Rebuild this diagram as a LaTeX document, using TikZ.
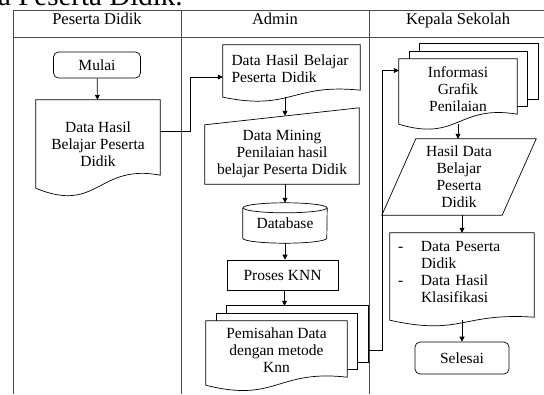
\documentclass[tikz,border=0pt]{standalone}
\usepackage{fontspec}
\setmainfont{Liberation Serif}
\usetikzlibrary{arrows.meta,calc,positioning,backgrounds}

\tikzset{
  lane/.style={draw=black!70, line width=0.8pt},
  shapeline/.style={draw=black, line width=0.7pt},
  flow/.style={-{Triangle[length=5pt,width=5pt]}, line width=0.7pt},
  txt/.style={font=\fontsize{15.5}{17}\selectfont, inner sep=0pt, align=center},
  hdr/.style={font=\fontsize{16.5}{18}\selectfont, inner sep=0pt},
  startstop/.style={txt, shapeline, rounded corners=5pt},
  procbox/.style={txt, shapeline},
}

% document symbol: #1 node, #2 rise of right end, #3 dip, #4 bulge
\newcommand{\docline}[4]{%
  \draw[shapeline, fill=white] (#1.south west) -- (#1.north west) -- (#1.north east)
    -- ([yshift=#2pt]#1.south east)
    .. controls ([yshift=#4pt]#1.south) and ([yshift=-#3pt]#1.south) .. (#1.south west) -- cycle;}
% pages behind a multi document: #1 front node, #2 rise of right end
\newcommand{\stackline}[2]{%
  \foreach \s in {2,1}
    \draw[shapeline, fill=white] ([shift={({10.5pt*\s},{7.5pt*\s})}]#1.north west)
      rectangle ([shift={({10.5pt*\s},{7.5pt*\s+#2pt})}]#1.south east);}
% manual input: #1 node, #2 rise of top right corner
\newcommand{\inputline}[2]{%
  \draw[shapeline] (#1.south west) -- (#1.north west) -- ([yshift=#2pt]#1.north east)
    -- (#1.south east) -- cycle;}
% data (parallelogram): #1 node, #2 slant
\newcommand{\dataline}[2]{%
  \draw[shapeline] ([xshift=#2pt]#1.north west) -- (#1.north east)
    -- ([xshift=-#2pt]#1.south east) -- (#1.south west) -- cycle;}
% database drum
\newcommand{\dbline}[1]{%
  \draw[shapeline] ([yshift=-5pt]#1.north west) -- ([yshift=5pt]#1.south west)
    arc[start angle=180, end angle=360, x radius=42pt, y radius=5pt]
    -- ([yshift=-5pt]#1.north east);
  \draw[shapeline] ([yshift=-5pt]#1.north) ellipse[x radius=42pt, y radius=5pt];}

\begin{document}
\begin{tikzpicture}[x=1pt, y=-1pt]
  \useasboundingbox (0,0) rectangle (544,394);

  % swimlanes
  \draw[lane] (13,394) -- (13,10) -- (546,10);
  \draw[lane] (13,37) -- (546,37);
  \draw[lane] (181,10) -- (181,394);
  \draw[lane] (369,10) -- (369,394);

  \node[font=\fontsize{29}{30}\selectfont, inner sep=0pt, anchor=base west] (judul) at (-2,5) {a Peserta Didik.};
  \node[hdr, anchor=base] (hdPd) at (97,24) {Peserta Didik};
  \node[hdr, anchor=base] (hdAdm) at (275,24) {Admin};
  \node[hdr, anchor=base] (hdKs) at (458,24) {Kepala Sekolah};

  % Peserta Didik
  \node[startstop, minimum width=87pt, minimum height=26pt] (mulai) at (97,65) {Mulai};
  \node[txt, minimum width=124pt, minimum height=88pt] (dataPd) at (98,144) {Data Hasil\\Belajar Peserta\\Didik};

  % Admin
  \node[txt, align=left, text width=120pt, minimum width=137pt, minimum height=52pt, text depth=22pt] (dataAdm) at (291.5,71) {Data Hasil Belajar\\Peserta Didik};
  \node[txt, minimum width=154pt, minimum height=59pt] (mining) at (282,154.5) {Data Mining\\Penilaian hasil\\belajar Peserta Didik};
  \node[txt, minimum width=84pt, minimum height=40pt] (db) at (285,223) {Database};
  \node[procbox, minimum width=111pt, minimum height=30pt] (proses) at (282.5,275) {Proses KNN};
  \node[txt, minimum width=141pt, minimum height=64pt, text depth=6pt] (pem) at (276.5,353) {Pemisahan Data\\dengan metode\\Knn};

  % Kepala Sekolah
  \node[txt, minimum width=118pt, minimum height=65pt, text depth=5pt] (inf) at (458,91.5) {Informasi\\Grafik\\Penilaian};
  \node[txt, minimum width=154pt, minimum height=76pt] (hasil) at (459,177) {Hasil Data\\Belajar\\Peserta\\Didik};
  \node[txt, align=left, text width=128pt, minimum width=144pt, minimum height=87pt, text depth=61pt] (klas) at (462,276.5)
    {\makebox[23pt][l]{-}Data Peserta\\\hspace*{23pt}Didik\\\makebox[23pt][l]{-}Data Hasil\\\hspace*{23pt}Klasifikasi};
  \node[startstop, minimum width=94pt, minimum height=32pt] (selesai) at (462,358) {Selesai};

  \begin{scope}[on background layer]
    \docline{dataPd}{13}{26}{25}
    \docline{dataAdm}{7}{14}{14}
    \inputline{mining}{17}
    \dbline{db}
    \stackline{pem}{8}
    \docline{pem}{8}{18}{16}
    \stackline{inf}{10}
    \docline{inf}{10}{18}{20}
    \dataline{hasil}{34}
    \docline{klas}{3}{16}{8}
  \end{scope}

  \coordinate (minTop) at ($(mining.north)+(3,-9)$);
  \coordinate (pemTop) at ($(pem.north)+(8,-15)$);

  \draw[flow] (mulai) -- (dataPd);
  \draw[flow] ([yshift=13pt]dataPd.east) -- ++(30,0) |- ([yshift=-6pt]dataAdm.west);
  \draw[flow] (dataAdm.south -| minTop) -- (minTop);
  \draw[flow] (mining.south -| db) -- (db);
  \draw[flow] (db.south) -- (db.south |- proses.north);
  \draw[flow] (proses.south -| pemTop) -- (pemTop);
  \draw[flow] ([shift={(21pt,3pt)}]pem.east) -- ++(14,0) |- ([yshift=21pt]inf.west);
  \draw[flow] (inf.south) -- (inf.south |- hasil.north);
  \draw[flow] (hasil.south -| klas) -- (klas);
  \draw[flow] (klas.south -| selesai) -- (selesai);
\end{tikzpicture}
\end{document}
